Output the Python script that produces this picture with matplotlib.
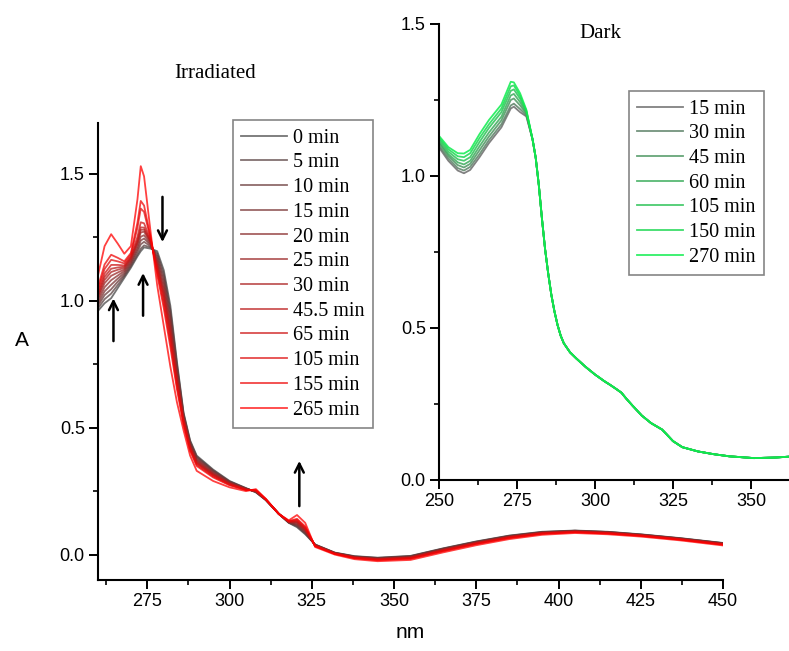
import matplotlib
matplotlib.use("Agg")
import matplotlib.pyplot as plt
from matplotlib.ticker import MultipleLocator, FormatStrFormatter

# ---------------- Irradiated (main panel) ----------------
irr_wl = [260, 262, 264, 266, 268, 270, 272, 273, 274, 276, 278, 280, 282, 284, 286, 288, 290,
          295, 300, 305, 308, 311, 315, 318, 320.5, 323,
          326, 332, 338, 345, 355, 365, 375, 385, 395, 405, 415, 425, 437, 450]
irr_labels = ["0 min", "5 min", "10 min", "15 min", "20 min", "25 min", "30 min",
              "45.5 min", "65 min", "105 min", "155 min", "265 min"]

irr_0 = [.960, .990, 1.010, 1.050, 1.090, 1.130, 1.175, 1.195, 1.210, 1.205, 1.195, 1.120, .980, .760, .560, .450, .390,
         .335, .290, .262, .245, .215, .160, .125, .108, .080,
         .040, .008, -.006, -.012, -.005, .025, .052, .075, .090, .095, .090, .080, .065, .046]
irr_5 = [.970, 1.006, 1.028, 1.062, 1.097, 1.136, 1.182, 1.205, 1.218, 1.210, 1.186, 1.105, .963, .749, .555, .446, .386,
         .332, .288, .261, .246, .215, .160, .126, .111, .083,
         .039, .007, -.007, -.013, -.006, .024, .051, .074, .089, .094, .089, .079, .064, .045]
irr_10 = [.980, 1.022, 1.045, 1.075, 1.103, 1.142, 1.193, 1.222, 1.232, 1.214, 1.176, 1.089, .946, .738, .550, .442, .382,
          .329, .287, .260, .247, .216, .160, .126, .115, .086,
          .039, .007, -.008, -.014, -.007, .023, .050, .073, .088, .094, .089, .079, .064, .045]
irr_15 = [.989, 1.037, 1.063, 1.087, 1.110, 1.148, 1.203, 1.237, 1.245, 1.219, 1.167, 1.074, .930, .726, .545, .437, .377,
          .326, .285, .260, .248, .216, .160, .127, .118, .090,
          .038, .006, -.009, -.015, -.008, .022, .049, .072, .087, .093, .088, .078, .063, .044]
irr_20 = [.999, 1.053, 1.081, 1.099, 1.117, 1.154, 1.213, 1.252, 1.258, 1.223, 1.157, 1.058, .913, .715, .540, .433, .373,
          .322, .283, .259, .249, .216, .160, .128, .121, .093,
          .037, .006, -.009, -.016, -.009, .021, .048, .071, .087, .092, .087, .077, .062, .043]
irr_25 = [1.009, 1.069, 1.098, 1.111, 1.123, 1.160, 1.225, 1.269, 1.272, 1.228, 1.148, 1.043, .896, .704, .536, .429, .369,
          .319, .281, .258, .250, .217, .160, .129, .125, .096,
          .037, .005, -.010, -.017, -.011, .019, .047, .070, .086, .092, .087, .077, .062, .043]
irr_30 = [1.017, 1.082, 1.113, 1.122, 1.129, 1.165, 1.231, 1.279, 1.280, 1.232, 1.140, 1.030, .882, .694, .531, .425, .365,
          .317, .280, .257, .250, .217, .160, .129, .128, .099,
          .036, .005, -.011, -.018, -.012, .018, .046, .069, .085, .091, .086, .076, .061, .042]
irr_45 = [1.024, 1.094, 1.126, 1.131, 1.134, 1.169, 1.238, 1.289, 1.288, 1.235, 1.133, 1.019, .870, .686, .528, .422, .362,
          .314, .279, .256, .251, .217, .160, .130, .130, .101,
          .035, .004, -.012, -.018, -.012, .018, .045, .069, .084, .090, .085, .076, .061, .041]
irr_65 = [1.033, 1.107, 1.141, 1.141, 1.139, 1.174, 1.252, 1.309, 1.305, 1.239, 1.125, 1.006, .855, .677, .524, .419, .359,
          .312, .277, .256, .252, .218, .160, .130, .133, .103,
          .035, .004, -.012, -.019, -.013, .017, .044, .068, .084, .090, .085, .075, .060, .041]
irr_105 = [1.044, 1.125, 1.161, 1.155, 1.147, 1.181, 1.288, 1.363, 1.350, 1.244, 1.114, .988, .836, .664, .518, .414, .354,
           .308, .275, .255, .253, .218, .160, .131, .137, .107,
           .034, .003, -.013, -.020, -.015, .015, .043, .067, .083, .089, .084, .075, .060, .040]
irr_155 = [1.055, 1.143, 1.181, 1.169, 1.155, 1.188, 1.308, 1.393, 1.375, 1.249, 1.103, .970, .817, .651, .512, .409, .349,
           .304, .273, .254, .254, .218, .160, .132, .141, .111,
           .033, .003, -.014, -.022, -.016, .014, .042, .065, .082, .088, .083, .074, .059, .039]
irr_265 = [1.100, 1.215, 1.262, 1.225, 1.185, 1.215, 1.400, 1.530, 1.490, 1.270, 1.060, .900, .740, .600, .490, .390, .330,
           .290, .265, .250, .258, .220, .160, .135, .156, .125,
           .030, .000, -.018, -.026, -.021, .009, .037, .061, .078, .085, .080, .071, .056, .036]

irr_series = [irr_0, irr_5, irr_10, irr_15, irr_20, irr_25, irr_30, irr_45, irr_65, irr_105, irr_155, irr_265]

# ---------------- Dark (inset) ----------------
dark_wl_peak = [250, 253, 256, 258, 260, 263, 266, 270, 273, 274, 276, 278]
dark_labels = ["15 min", "30 min", "45 min", "60 min", "105 min", "150 min", "270 min"]
dark_15 = [1.094, 1.050, 1.018, 1.009, 1.020, 1.062, 1.108, 1.160, 1.222, 1.228, 1.210, 1.196]
dark_30 = [1.100, 1.058, 1.026, 1.018, 1.030, 1.072, 1.118, 1.170, 1.232, 1.238, 1.220, 1.200]
dark_45 = [1.108, 1.066, 1.036, 1.028, 1.040, 1.085, 1.130, 1.183, 1.250, 1.255, 1.232, 1.205]
dark_60 = [1.113, 1.072, 1.045, 1.038, 1.050, 1.098, 1.143, 1.195, 1.265, 1.270, 1.243, 1.208]
dark_105 = [1.120, 1.080, 1.055, 1.050, 1.062, 1.112, 1.158, 1.210, 1.280, 1.285, 1.254, 1.212]
dark_150 = [1.126, 1.088, 1.065, 1.062, 1.075, 1.125, 1.170, 1.222, 1.295, 1.298, 1.263, 1.215]
dark_270 = [1.132, 1.095, 1.075, 1.074, 1.086, 1.138, 1.184, 1.235, 1.310, 1.308, 1.272, 1.218]
dark_series = [dark_15, dark_30, dark_45, dark_60, dark_105, dark_150, dark_270]
# beyond 280 nm all dark spectra coincide
dark_wl_tail = [280, 281, 282, 283, 284, 285, 286, 287, 288, 289, 290, 292, 294, 297, 300, 303, 305, 307,
                308.5, 310, 312, 315, 318, 320, 321.5, 323, 325, 328, 333, 338, 343, 351, 358, 362.5]
dark_tail = [1.12, 1.06, 0.97, 0.86, 0.76, 0.68, 0.61, 0.555, 0.51, 0.475, 0.45, 0.42, 0.40, 0.372, 0.347,
             0.325, 0.312, 0.298, 0.287, 0.268, 0.245, 0.212, 0.187, 0.175, 0.166, 0.15, 0.128, 0.108,
             0.094, 0.085, 0.078, 0.072, 0.074, 0.077]

SANS = "Liberation Sans"
SERIF = "Liberation Serif"

fig = plt.figure(figsize=(7.89, 6.51), dpi=100)


def style_axes(ax):
    for s in ("top", "right"):
        ax.spines[s].set_visible(False)
    for s in ("left", "bottom"):
        ax.spines[s].set_linewidth(1.5)
    ax.tick_params(which="major", direction="out", length=6.5, width=1.4, pad=3,
                   labelsize=13)
    ax.tick_params(which="minor", direction="out", length=3.6, width=1.2)
    for lab in ax.get_xticklabels() + ax.get_yticklabels():
        lab.set_fontfamily(SANS)
    ax.yaxis.set_major_formatter(FormatStrFormatter("%.1f"))
    ax.xaxis.set_major_formatter(FormatStrFormatter("%d"))


leg_kw = dict(borderaxespad=0, frameon=True, fancybox=False, edgecolor="#666666",
              prop={"family": SERIF, "size": 14.5}, handlelength=2.25, handletextpad=0.3,
              labelspacing=0.28, borderpad=0.42)

# main axes
ax = fig.add_axes([98 / 789, 1 - 580 / 651, (723 - 98) / 789, (580 - 123) / 651])
n = len(irr_series)
for i, (ys, lab) in enumerate(zip(irr_series, irr_labels)):
    t = i / (n - 1)
    col = (0.28 + 0.72 * t, 0.28 * (1 - t), 0.28 * (1 - t))
    ax.plot(irr_wl, ys, color=col, lw=1.3, alpha=0.75, label=lab)
ax.set_xlim(260, 450)
ax.set_ylim(-0.1, 1.7)
ax.xaxis.set_major_locator(MultipleLocator(25))
ax.xaxis.set_minor_locator(MultipleLocator(12.5))
ax.yaxis.set_major_locator(MultipleLocator(0.5))
ax.yaxis.set_minor_locator(MultipleLocator(0.25))
style_axes(ax)

leg = ax.legend(loc="upper left", bbox_to_anchor=(233 / 789, 1 - 120 / 651),
                bbox_transform=fig.transFigure, **leg_kw)
leg.get_frame().set_linewidth(1.2)

# arrows
arrow_kw = dict(arrowstyle="->", color="black", lw=1.8, mutation_scale=16)
ax.annotate("", xy=(264.7, 1.02), xytext=(264.7, 0.83), arrowprops=arrow_kw)
ax.annotate("", xy=(273.7, 1.12), xytext=(273.7, 0.93), arrowprops=arrow_kw)
ax.annotate("", xy=(279.6, 1.22), xytext=(279.6, 1.42), arrowprops=arrow_kw)
ax.annotate("", xy=(321.2, 0.38), xytext=(321.2, 0.18), arrowprops=arrow_kw)

# inset
ins = fig.add_axes([439 / 789, 1 - 480 / 651, 1 - 439 / 789, (480 - 24) / 651])
ins.patch.set_alpha(0)
m = len(dark_series)
for i, (ys, lab) in enumerate(zip(dark_series, dark_labels)):
    t = i / (m - 1)
    col = (0.42 * (1 - t) + 0.05 * t, 0.42 * (1 - t) + 0.93 * t, 0.42 * (1 - t) + 0.30 * t)
    ins.plot(dark_wl_peak + dark_wl_tail, ys + dark_tail, color=col, lw=1.3, alpha=0.85, label=lab)
ins.set_xlim(250, 362.2)
ins.set_ylim(0, 1.5)
ins.xaxis.set_major_locator(MultipleLocator(25))
ins.xaxis.set_minor_locator(MultipleLocator(12.5))
ins.yaxis.set_major_locator(MultipleLocator(0.5))
ins.yaxis.set_minor_locator(MultipleLocator(0.25))
style_axes(ins)
leg2 = ins.legend(loc="upper left", bbox_to_anchor=(629 / 789, 1 - 91 / 651),
                  bbox_transform=fig.transFigure, **leg_kw)
leg2.get_frame().set_linewidth(1.2)

# titles / labels
fig.text(215 / 789, 1 - 73 / 651, "Irradiated", family=SERIF, fontsize=15, ha="center", va="center")
fig.text(600 / 789, 1 - 33 / 651, "Dark", family=SERIF, fontsize=15, ha="center", va="center")
fig.text(22 / 789, 1 - 340 / 651, "A", family=SANS, fontsize=15, ha="center", va="center")
fig.text(410 / 789, 1 - 632 / 651, "nm", family=SANS, fontsize=15, ha="center", va="center")

fig.savefig("out.png", dpi=100)
